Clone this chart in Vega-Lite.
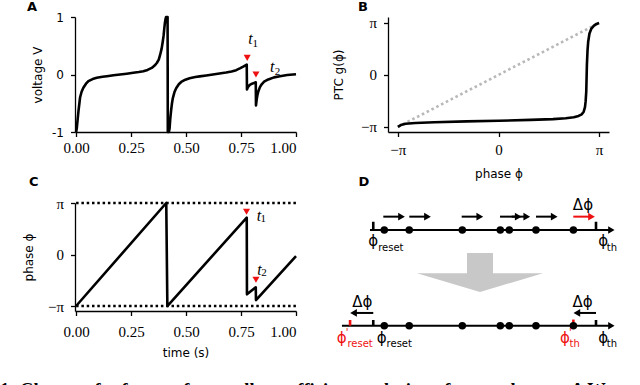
{
  "$schema": "https://vega.github.io/schema/vega-lite/v6.json",
  "padding": 0,
  "background": "white",
  "bounds": "flush",
  "columns": 2,
  "spacing": {"row": 71, "column": 92},
  "config": {
    "view": {"stroke": null},
    "axis": {"grid": false, "domainColor": "black", "domainWidth": 1.3, "tickColor": "black", "tickWidth": 1.3, "tickSize": 4.5, "labelFont": "Liberation Serif", "labelFontSize": 15, "labelColor": "black", "labelPadding": 4, "titleFont": "DejaVu Sans", "titleFontSize": 12, "titleFontWeight": "normal", "titleColor": "black"},
    "text": {"color": "black"}
  },
  "concat": [
    {
      "width": 221,
      "height": 115,
      "layer": [
        {
          "data": {"values": [
            {"i":0,"t":0,"v":-1},{"i":1,"t":0.003,"v":-0.94},{"i":2,"t":0.007,"v":-0.78},{"i":3,"t":0.011,"v":-0.63},{"i":4,"t":0.015,"v":-0.5},{"i":5,"t":0.018,"v":-0.4},{"i":6,"t":0.025,"v":-0.3},{"i":7,"t":0.033,"v":-0.23},{"i":8,"t":0.045,"v":-0.16},{"i":9,"t":0.056,"v":-0.115},{"i":10,"t":0.075,"v":-0.08},{"i":11,"t":0.094,"v":-0.057},{"i":12,"t":0.12,"v":-0.04},{"i":13,"t":0.14,"v":-0.029},{"i":14,"t":0.17,"v":-0.014},{"i":15,"t":0.2,"v":0},{"i":16,"t":0.23,"v":0.014},{"i":17,"t":0.26,"v":0.029},{"i":18,"t":0.285,"v":0.042},{"i":19,"t":0.306,"v":0.057},{"i":20,"t":0.325,"v":0.08},{"i":21,"t":0.344,"v":0.115},{"i":22,"t":0.357,"v":0.155},{"i":23,"t":0.367,"v":0.2},{"i":24,"t":0.376,"v":0.26},{"i":25,"t":0.382,"v":0.34},{"i":26,"t":0.389,"v":0.45},{"i":27,"t":0.394,"v":0.57},{"i":28,"t":0.398,"v":0.68},{"i":29,"t":0.401,"v":0.8},{"i":30,"t":0.404,"v":0.9},{"i":31,"t":0.407,"v":0.97},{"i":32,"t":0.409,"v":1},{"i":33,"t":0.416,"v":1},{"i":34,"t":0.417,"v":-1},{"i":35,"t":0.422,"v":-1},{"i":36,"t":0.425,"v":-0.94},{"i":37,"t":0.428,"v":-0.78},{"i":38,"t":0.432,"v":-0.63},{"i":39,"t":0.436,"v":-0.5},{"i":40,"t":0.44,"v":-0.41},{"i":41,"t":0.447,"v":-0.31},{"i":42,"t":0.455,"v":-0.24},{"i":43,"t":0.467,"v":-0.17},{"i":44,"t":0.478,"v":-0.13},{"i":45,"t":0.497,"v":-0.09},{"i":46,"t":0.516,"v":-0.065},{"i":47,"t":0.542,"v":-0.045},{"i":48,"t":0.562,"v":-0.033},{"i":49,"t":0.592,"v":-0.017},{"i":50,"t":0.622,"v":0},{"i":51,"t":0.652,"v":0.016},{"i":52,"t":0.682,"v":0.034},{"i":53,"t":0.707,"v":0.052},{"i":54,"t":0.728,"v":0.075},{"i":55,"t":0.747,"v":0.11},{"i":56,"t":0.762,"v":0.14},{"i":57,"t":0.776,"v":0.17},{"i":58,"t":0.777,"v":-0.26},{"i":59,"t":0.782,"v":-0.215},{"i":60,"t":0.79,"v":-0.18},{"i":61,"t":0.8,"v":-0.16},{"i":62,"t":0.81,"v":-0.145},{"i":63,"t":0.817,"v":-0.135},{"i":64,"t":0.818,"v":-0.54},{"i":65,"t":0.821,"v":-0.44},{"i":66,"t":0.825,"v":-0.35},{"i":67,"t":0.829,"v":-0.29},{"i":68,"t":0.836,"v":-0.22},{"i":69,"t":0.844,"v":-0.17},{"i":70,"t":0.855,"v":-0.125},{"i":71,"t":0.874,"v":-0.086},{"i":72,"t":0.9,"v":-0.05},{"i":73,"t":0.927,"v":-0.029},{"i":74,"t":0.96,"v":-0.01},{"i":75,"t":1,"v":0.005}
          ]},
          "mark": {"type": "line", "color": "black", "strokeWidth": 2.6, "strokeJoin": "round"},
          "encoding": {
            "x": {"field": "t", "type": "quantitative", "scale": {"domain": [-0.005, 1], "nice": false, "zero": false}, "axis": {"values": [0, 0.25, 0.5, 0.75, 1], "format": ".2f", "title": null}},
            "y": {"field": "v", "type": "quantitative", "scale": {"domain": [-1, 1], "nice": false}, "axis": {"values": [-1, 0, 1], "labelFont": "DejaVu Sans", "labelFontSize": 12, "labelPadding": 7, "labelExpr": "datum.value < 0 ? '-1' : format(datum.value, 'd')", "title": "voltage V", "titlePadding": 7}},
            "order": {"field": "i", "type": "quantitative"}
          }
        },
        {
          "data": {"values": [{"t": 0.778, "v": 0.29}, {"t": 0.818, "v": 0.0}]},
          "mark": {"type": "point", "shape": "triangle-down", "filled": true, "color": "#ee1111", "size": 50, "opacity": 1},
          "encoding": {"x": {"field": "t", "type": "quantitative"}, "y": {"field": "v", "type": "quantitative"}}
        },
        {
          "data": {"values": [{"t": 0.7927, "v": 0.612, "s": "t"}, {"t": 0.8914, "v": 0.134, "s": "t"}]},
          "mark": {"type": "text", "font": "Liberation Serif", "fontStyle": "italic", "fontSize": 16, "align": "center", "baseline": "middle"},
          "encoding": {"x": {"field": "t", "type": "quantitative"}, "y": {"field": "v", "type": "quantitative"}, "text": {"field": "s"}}
        },
        {
          "data": {"values": [{"t": 0.8145, "v": 0.534, "s": "1"}, {"t": 0.9155, "v": 0.043, "s": "2"}]},
          "mark": {"type": "text", "font": "Liberation Serif", "fontSize": 11, "align": "center", "baseline": "middle"},
          "encoding": {"x": {"field": "t", "type": "quantitative"}, "y": {"field": "v", "type": "quantitative"}, "text": {"field": "s"}}
        },
        {
          "data": {"values": [{"t": -0.2, "v": 1.18, "s": "A"}]},
          "mark": {"type": "text", "font": "DejaVu Sans", "fontWeight": "bold", "fontSize": 13, "align": "center", "baseline": "middle"},
          "encoding": {"x": {"field": "t", "type": "quantitative"}, "y": {"field": "v", "type": "quantitative"}, "text": {"field": "s"}}
        }
      ]
    },
    {
      "width": 221,
      "height": 115,
      "layer": [
        {
          "data": {"values": [{"x": -3.1416, "y": -3.1416}, {"x": 3.1416, "y": 3.1416}]},
          "mark": {"type": "line", "color": "#b8b8b8", "strokeWidth": 2.6, "strokeDash": [2.6, 2.8]},
          "encoding": {
            "x": {"field": "x", "type": "quantitative", "scale": {"domain": [-3.45, 3.45], "nice": false, "zero": false}, "axis": {"values": [-3.14159, 0, 3.14159], "labelExpr": "datum.value > 3 ? 'π' : datum.value < -3 ? '−π' : '0'", "labelPadding": 6, "title": "phase ϕ", "titlePadding": 11}},
            "y": {"field": "y", "type": "quantitative", "scale": {"domain": [-3.45, 3.5], "nice": false, "zero": false}, "axis": {"values": [-3.14159, 0, 3.14159], "labelExpr": "datum.value > 3 ? 'π' : datum.value < -3 ? '−π' : '0'", "labelPadding": 7, "title": "PTC g(ϕ)", "titlePadding": 15}}
          }
        },
        {
          "data": {"values": [
            {"i":0,"x":-3.1416,"y":-3.1416},{"i":1,"x":-3.05,"y":-3.03},{"i":2,"x":-2.9,"y":-2.95},{"i":3,"x":-2.6,"y":-2.91},{"i":4,"x":-2.0,"y":-2.86},{"i":5,"x":-1.0,"y":-2.81},{"i":6,"x":0,"y":-2.77},{"i":7,"x":1.0,"y":-2.72},{"i":8,"x":1.7,"y":-2.67},{"i":9,"x":2.1,"y":-2.62},{"i":10,"x":2.35,"y":-2.56},{"i":11,"x":2.5,"y":-2.48},{"i":12,"x":2.6,"y":-2.38},{"i":13,"x":2.66,"y":-2.22},{"i":14,"x":2.7,"y":-1.95},{"i":15,"x":2.72,"y":-1.6},{"i":16,"x":2.74,"y":-1.0},{"i":17,"x":2.75,"y":-0.2},{"i":18,"x":2.76,"y":0.6},{"i":19,"x":2.78,"y":1.5},{"i":20,"x":2.8,"y":2.0},{"i":21,"x":2.84,"y":2.5},{"i":22,"x":2.9,"y":2.8},{"i":23,"x":2.98,"y":2.98},{"i":24,"x":3.06,"y":3.08},{"i":25,"x":3.1416,"y":3.1416}
          ]},
          "mark": {"type": "line", "color": "black", "strokeWidth": 2.6, "strokeJoin": "round"},
          "encoding": {"x": {"field": "x", "type": "quantitative"}, "y": {"field": "y", "type": "quantitative"}, "order": {"field": "i", "type": "quantitative"}}
        },
        {
          "data": {"values": [{"x": -4.23, "y": 4.1, "s": "B"}]},
          "mark": {"type": "text", "font": "DejaVu Sans", "fontWeight": "bold", "fontSize": 13, "align": "center", "baseline": "middle"},
          "encoding": {"x": {"field": "x", "type": "quantitative"}, "y": {"field": "y", "type": "quantitative"}, "text": {"field": "s"}}
        }
      ]
    },
    {
      "width": 221,
      "height": 108,
      "layer": [
        {
          "data": {"values": [{"t": 0, "t2": 1, "p": 3.1416}, {"t": 0, "t2": 1, "p": -3.1416}]},
          "mark": {"type": "rule", "color": "black", "strokeWidth": 2.5, "strokeDash": [2.5, 2.8]},
          "encoding": {
            "x": {"field": "t", "type": "quantitative", "scale": {"domain": [-0.005, 1], "nice": false, "zero": false}, "axis": {"values": [0, 0.25, 0.5, 0.75, 1], "format": ".2f", "labelPadding": 9, "title": "time (s)", "titlePadding": 8}},
            "x2": {"field": "t2"},
            "y": {"field": "p", "type": "quantitative", "scale": {"domain": [-3.446, 3.1416], "nice": false, "zero": false}, "axis": {"values": [-3.14159, 0, 3.14159], "labelExpr": "datum.value > 3 ? 'π' : datum.value < -3 ? '−π' : '0'", "labelPadding": 7, "title": "phase ϕ", "titlePadding": 12}}
          }
        },
        {
          "data": {"values": [
            {"i":0,"t":0,"p":-3.1416},{"i":1,"t":0.41,"p":3.1416},{"i":2,"t":0.415,"p":-3.1416},{"i":3,"t":0.776,"p":2.25},{"i":4,"t":0.777,"p":-2.43},{"i":5,"t":0.817,"p":-2.0},{"i":6,"t":0.818,"p":-2.78},{"i":7,"t":1,"p":-0.1}
          ]},
          "mark": {"type": "line", "color": "black", "strokeWidth": 2.6, "strokeJoin": "round"},
          "encoding": {"x": {"field": "t", "type": "quantitative"}, "y": {"field": "p", "type": "quantitative"}, "order": {"field": "i", "type": "quantitative"}}
        },
        {
          "data": {"values": [{"t": 0.775, "p": 2.61}, {"t": 0.818, "p": -1.54}]},
          "mark": {"type": "point", "shape": "triangle-down", "filled": true, "color": "#ee1111", "size": 50, "opacity": 1},
          "encoding": {"x": {"field": "t", "type": "quantitative"}, "y": {"field": "p", "type": "quantitative"}}
        },
        {
          "data": {"values": [{"t": 0.832, "p": 2.35, "s": "t"}, {"t": 0.834, "p": -0.93, "s": "t"}]},
          "mark": {"type": "text", "font": "Liberation Serif", "fontStyle": "italic", "fontSize": 16, "align": "center", "baseline": "middle"},
          "encoding": {"x": {"field": "t", "type": "quantitative"}, "y": {"field": "p", "type": "quantitative"}, "text": {"field": "s"}}
        },
        {
          "data": {"values": [{"t": 0.851, "p": 2.17, "s": "1"}, {"t": 0.855, "p": -1.13, "s": "2"}]},
          "mark": {"type": "text", "font": "Liberation Serif", "fontSize": 11, "align": "center", "baseline": "middle"},
          "encoding": {"x": {"field": "t", "type": "quantitative"}, "y": {"field": "p", "type": "quantitative"}, "text": {"field": "s"}}
        },
        {
          "data": {"values": [{"t": -0.192, "p": 4.4, "s": "C"}]},
          "mark": {"type": "text", "font": "DejaVu Sans", "fontWeight": "bold", "fontSize": 13, "align": "center", "baseline": "middle"},
          "encoding": {"x": {"field": "t", "type": "quantitative"}, "y": {"field": "p", "type": "quantitative"}, "text": {"field": "s"}}
        },
        {
          "data": {"values": [{"t": -0.346, "p": -8.64, "s": "1: Change of reference frame allows efficient evolution of network state. A We re"}]},
          "mark": {"type": "text", "font": "Liberation Serif", "fontWeight": "bold", "fontSize": 18.5, "align": "left", "baseline": "alphabetic"},
          "encoding": {"x": {"field": "t", "type": "quantitative"}, "y": {"field": "p", "type": "quantitative"}, "text": {"field": "s"}}
        }
      ]
    },
    {
      "width": 237,
      "height": 150,
      "layer": [
        {
          "data": {"values": [{"x": 12.07, "x2": 95.5, "y": 82.0}, {"x": 2.4, "x2": 95.5, "y": 18.2}]},
          "mark": {"type": "rule", "color": "black", "strokeWidth": 2},
          "encoding": {
            "x": {"field": "x", "type": "quantitative", "scale": {"domain": [18.28, 100], "nice": false, "zero": false}, "axis": null},
            "x2": {"field": "x2"},
            "y": {"field": "y", "type": "quantitative", "scale": {"domain": [0, 100], "nice": false, "zero": false}, "axis": null}
          }
        },
        {
          "data": {"values": [{"x": 95.3, "y": 82.0}, {"x": 95.3, "y": 18.2}]},
          "mark": {"type": "point", "shape": "triangle-right", "filled": true, "color": "black", "size": 55, "opacity": 1},
          "encoding": {"x": {"field": "x", "type": "quantitative"}, "y": {"field": "y", "type": "quantitative"}}
        },
        {
          "data": {"values": [
            {"x": 13.2, "y": 82.0, "y2": 87.5, "c": "black"},
            {"x": 90.0, "y": 82.0, "y2": 87.5, "c": "black"},
            {"x": 5.2, "y": 18.2, "y2": 22.0, "c": "#ee1111"},
            {"x": 13.2, "y": 18.2, "y2": 22.0, "c": "black"},
            {"x": 82.2, "y": 20.2, "y2": 22.3, "c": "#ee1111"},
            {"x": 90.0, "y": 18.2, "y2": 22.0, "c": "black"}
          ]},
          "mark": {"type": "rule", "strokeWidth": 2.6},
          "encoding": {"x": {"field": "x", "type": "quantitative"}, "y": {"field": "y", "type": "quantitative"}, "y2": {"field": "y2"}, "color": {"field": "c", "type": "nominal", "scale": null}}
        },
        {
          "data": {"values": [
            {"x": 17.0, "y": 82.0}, {"x": 25.6, "y": 82.0}, {"x": 43.9, "y": 82.0}, {"x": 57.0, "y": 82.0}, {"x": 60.1, "y": 82.0}, {"x": 69.3, "y": 82.0}, {"x": 82.2, "y": 82.0},
            {"x": 17.0, "y": 18.2}, {"x": 25.6, "y": 18.2}, {"x": 43.9, "y": 18.2}, {"x": 57.0, "y": 18.2}, {"x": 60.1, "y": 18.2}, {"x": 69.3, "y": 18.2}, {"x": 82.2, "y": 18.2}
          ]},
          "mark": {"type": "circle", "color": "black", "size": 56, "opacity": 1},
          "encoding": {"x": {"field": "x", "type": "quantitative"}, "y": {"field": "y", "type": "quantitative"}}
        },
        {
          "data": {"values": [
            {"x": 16.66, "x2": 22.94, "y": 90.9, "c": "black"},
            {"x": 25.62, "x2": 31.9, "y": 90.9, "c": "black"},
            {"x": 43.69, "x2": 49.94, "y": 90.9, "c": "black"},
            {"x": 56.9, "x2": 63.18, "y": 90.9, "c": "black"},
            {"x": 60.93, "x2": 66.14, "y": 90.9, "c": "black"},
            {"x": 69.31, "x2": 75.59, "y": 90.9, "c": "black"},
            {"x": 82.17, "x2": 88.46, "y": 90.9, "c": "#ee1111"},
            {"x": 13.2, "x2": 6.4, "y": 26.7, "c": "black"},
            {"x": 90.0, "x2": 83.4, "y": 26.7, "c": "black"}
          ]},
          "mark": {"type": "rule", "strokeWidth": 2},
          "encoding": {"x": {"field": "x", "type": "quantitative"}, "x2": {"field": "x2"}, "y": {"field": "y", "type": "quantitative"}, "color": {"field": "c", "type": "nominal", "scale": null}}
        },
        {
          "data": {"values": [
            {"x": 22.94, "y": 90.9, "c": "black", "sh": "triangle-right"},
            {"x": 31.9, "y": 90.9, "c": "black", "sh": "triangle-right"},
            {"x": 49.94, "y": 90.9, "c": "black", "sh": "triangle-right"},
            {"x": 63.18, "y": 90.9, "c": "black", "sh": "triangle-right"},
            {"x": 66.14, "y": 90.9, "c": "black", "sh": "triangle-right"},
            {"x": 75.59, "y": 90.9, "c": "black", "sh": "triangle-right"},
            {"x": 88.46, "y": 90.9, "c": "#ee1111", "sh": "triangle-right"},
            {"x": 6.4, "y": 26.7, "c": "black", "sh": "triangle-left"},
            {"x": 83.4, "y": 26.7, "c": "black", "sh": "triangle-left"}
          ]},
          "mark": {"type": "point", "filled": true, "size": 60, "opacity": 1},
          "encoding": {"x": {"field": "x", "type": "quantitative"}, "y": {"field": "y", "type": "quantitative"}, "color": {"field": "c", "type": "nominal", "scale": null}, "shape": {"field": "sh", "type": "nominal", "scale": null}}
        },
        {
          "data": {"values": [{"x": 50, "y": 53.7}]},
          "mark": {"type": "point", "filled": true, "color": "#c8c8c8", "opacity": 1, "size": 15876, "shape": "M-0.206,-0.31L0.206,-0.31L0.206,0.013L1,0.013L0,0.31L-1,0.013L-0.206,0.013Z"},
          "encoding": {"x": {"field": "x", "type": "quantitative"}, "y": {"field": "y", "type": "quantitative"}}
        },
        {
          "data": {"values": [{"x": 85.5, "y": 98.7, "s": "Δϕ"}, {"x": 9.4, "y": 34.0, "s": "Δϕ"}, {"x": 85.4, "y": 34.0, "s": "Δϕ"}]},
          "mark": {"type": "text", "font": "DejaVu Sans", "fontSize": 15, "align": "center", "baseline": "middle"},
          "encoding": {"x": {"field": "x", "type": "quantitative"}, "y": {"field": "y", "type": "quantitative"}, "text": {"field": "s"}}
        },
        {
          "data": {"values": [
            {"x": 11.5, "y": 74.7, "s": "ϕ", "c": "black"},
            {"x": 90.8, "y": 74.7, "s": "ϕ", "c": "black"},
            {"x": 0.6, "y": 10.0, "s": "ϕ", "c": "#ee1111"},
            {"x": 14.4, "y": 10.0, "s": "ϕ", "c": "black"},
            {"x": 77.6, "y": 10.0, "s": "ϕ", "c": "#ee1111"},
            {"x": 90.8, "y": 10.0, "s": "ϕ", "c": "black"}
          ]},
          "mark": {"type": "text", "font": "DejaVu Sans", "fontSize": 15, "align": "left", "baseline": "middle"},
          "encoding": {"x": {"field": "x", "type": "quantitative"}, "y": {"field": "y", "type": "quantitative"}, "text": {"field": "s"}, "color": {"field": "c", "type": "nominal", "scale": null}}
        },
        {
          "data": {"values": [
            {"x": 3.7, "y": 13.2, "s": "'", "c": "#ee1111"},
            {"x": 80.7, "y": 13.2, "s": "'", "c": "#ee1111"}
          ]},
          "mark": {"type": "text", "font": "DejaVu Sans", "fontSize": 10, "align": "left", "baseline": "middle"},
          "encoding": {"x": {"field": "x", "type": "quantitative"}, "y": {"field": "y", "type": "quantitative"}, "text": {"field": "s"}, "color": {"field": "c", "type": "nominal", "scale": null}}
        },
        {
          "data": {"values": [
            {"x": 14.9, "y": 70.3, "s": "reset", "c": "black"},
            {"x": 93.7, "y": 70.3, "s": "th", "c": "black"},
            {"x": 4.3, "y": 6.3, "s": "reset", "c": "#ee1111"},
            {"x": 17.8, "y": 6.3, "s": "reset", "c": "black"},
            {"x": 80.9, "y": 6.3, "s": "th", "c": "#ee1111"},
            {"x": 93.7, "y": 6.3, "s": "th", "c": "black"}
          ]},
          "mark": {"type": "text", "font": "DejaVu Sans", "fontSize": 10, "align": "left", "baseline": "middle"},
          "encoding": {"x": {"field": "x", "type": "quantitative"}, "y": {"field": "y", "type": "quantitative"}, "text": {"field": "s"}, "color": {"field": "c", "type": "nominal", "scale": null}}
        },
        {
          "data": {"values": [{"x": 10.0, "y": 114.2, "s": "D"}]},
          "mark": {"type": "text", "font": "DejaVu Sans", "fontWeight": "bold", "fontSize": 13, "align": "center", "baseline": "middle"},
          "encoding": {"x": {"field": "x", "type": "quantitative"}, "y": {"field": "y", "type": "quantitative"}, "text": {"field": "s"}}
        }
      ]
    }
  ]
}
